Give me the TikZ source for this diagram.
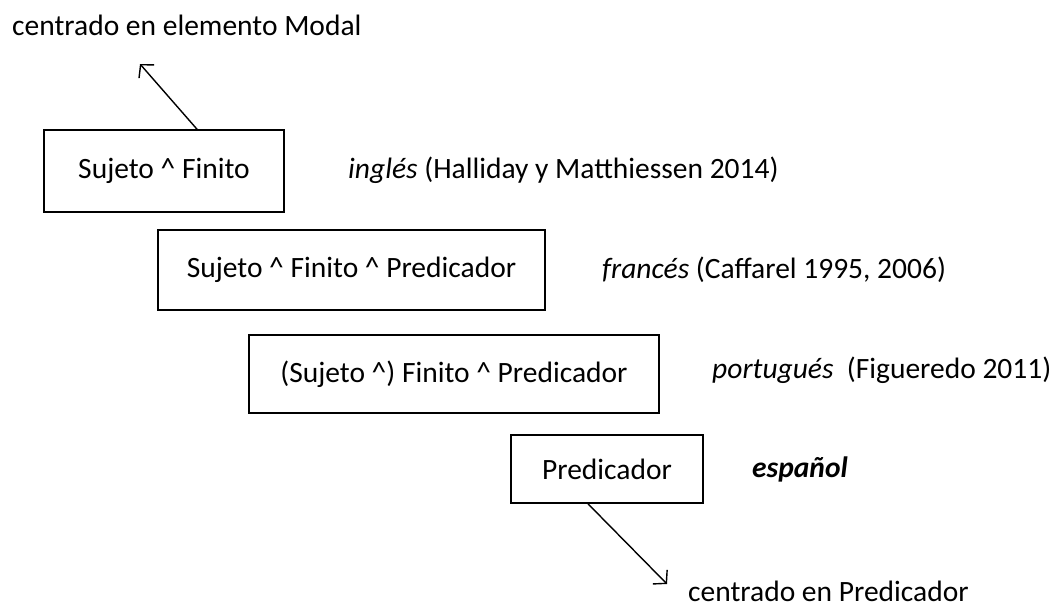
\documentclass[tikz,border=0pt]{standalone}
\usepackage{fontspec}
\setmainfont{Carlito}
\usetikzlibrary{arrows.meta}

\begin{document}
\begin{tikzpicture}[x=1pt,y=-1pt,
  font=\fontsize{29.5}{34}\selectfont,
  caja/.style={draw,line width=1.6pt,inner sep=0pt},
  etiqueta/.style={anchor=base west,inner sep=0pt},
  flecha/.style={line width=1.4pt,-{Straight Barb[length=9pt,width=20pt,line width=1.4pt]}}]
%picture
\useasboundingbox (0,0) rectangle (1054,608);
\node[caja,minimum width=240,minimum height=82] (ingles) at (164,171) {Sujeto \^{} Finito};
\node[caja,minimum width=387,minimum height=80,line width=2pt] (frances) at (351.5,270) {Sujeto \^{} Finito \^{} Predicador};
\node[caja,minimum width=410,minimum height=78] (portugues) at (454,374) {(Sujeto \^{}) Finito \^{} Predicador};
\node[caja,minimum width=192,minimum height=68] (espanol) at (607,469) {Predicador};
\node[etiqueta] (modal) at (12,35) {centrado en elemento Modal};
\node[etiqueta] (lingles) at (348,178) {\textit{inglés} (Halliday y Matthiessen 2014)};
\node[etiqueta] (lfrances) at (602,278) {\textit{francés} (Caffarel 1995, 2006)};
\node[etiqueta] (lportugues) at (712,378) {\textit{portugués}\ \ (Figueredo 2011)};
\node[etiqueta] (lespanol) at (752,477) {\textbf{\textit{español}}};
\node[etiqueta] (pred) at (688,601) {centrado en Predicador};
\coordinate (puntamodal) at (140,64);
\coordinate (puntapred) at (667,584);
\draw[flecha] ([xshift=33]ingles.north) -- (puntamodal);
\draw[flecha] ([xshift=-19]espanol.south) -- (puntapred);
\end{tikzpicture}
\end{document}
